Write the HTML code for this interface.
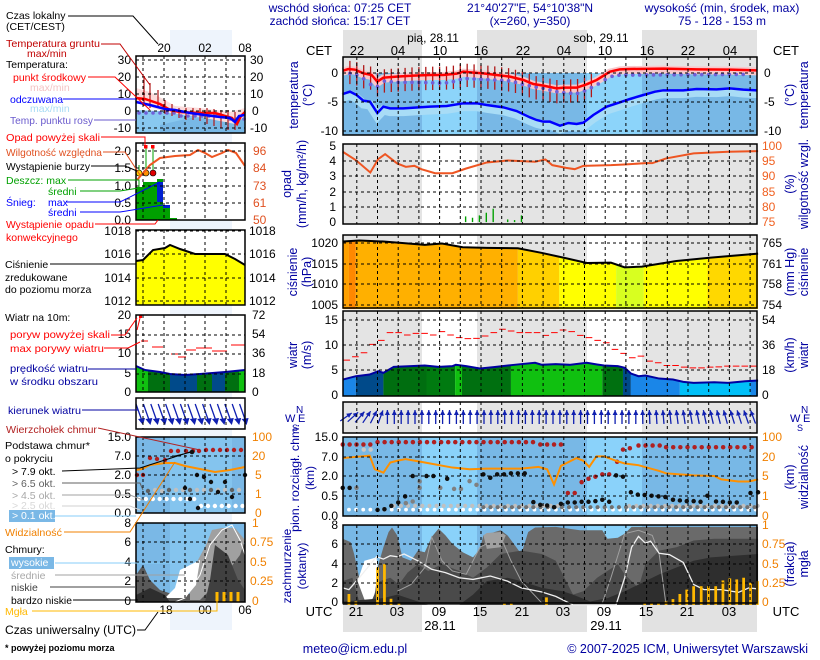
<!DOCTYPE html>
<html><head><meta charset="utf-8">
<style>
html,body{margin:0;padding:0;background:#fff;}
svg{display:block;font-family:"Liberation Sans",Arial,sans-serif;}
.n{fill:#0000a0}
.lg{font-size:10.5px}
.ax{font-size:12px}
</style></head><body>
<svg id="s" xmlns="http://www.w3.org/2000/svg" width="820" height="660" viewBox="0 0 820 660">
<rect width="820" height="660" fill="#fff"/>
<g id="bg"></g>
<g id="ser"></g>
<g id="grid"></g>
<g id="box"></g>
<g id="txt">
<text class="n" x="340" y="12" font-size="12" text-anchor="middle">wschód słońca: 07:25 CET</text>
<text class="n" x="340" y="25" font-size="12" text-anchor="middle">zachód słońca: 15:17 CET</text>
<text class="n" x="530" y="12" font-size="12" text-anchor="middle">21°40'27"E, 54°10'38"N</text>
<text class="n" x="530" y="25" font-size="12" text-anchor="middle">(x=260,  y=350)</text>
<text class="n" x="722" y="12" font-size="12" text-anchor="middle">wysokość (min, środek, max)</text>
<text class="n" x="722" y="25" font-size="12" text-anchor="middle">75 - 128 - 153 m</text>
<text x="433" y="42" font-size="12" text-anchor="middle">pią, 28.11</text>
<text x="601" y="42" font-size="12" text-anchor="middle">sob, 29.11</text>
<g font-size="13" text-anchor="middle">
<text x="319" y="55">CET</text><text x="786" y="55">CET</text>
<text x="357" y="55">22</text><text x="398" y="55">04</text><text x="440" y="55">10</text><text x="481" y="55">16</text><text x="523" y="55">22</text><text x="564" y="55">04</text><text x="605" y="55">10</text><text x="647" y="55">16</text><text x="688" y="55">22</text><text x="730" y="55">04</text>
<text x="319" y="616">UTC</text><text x="786" y="616">UTC</text>
<text x="356" y="616">21</text><text x="397" y="616">03</text><text x="439" y="616">09</text><text x="480" y="616">15</text><text x="522" y="616">21</text><text x="563" y="616">03</text><text x="604" y="616">09</text><text x="646" y="616">15</text><text x="687" y="616">21</text><text x="729" y="616">03</text>
<text x="440" y="630">28.11</text><text x="606" y="630">29.11</text>
</g>
<g class="ax" text-anchor="end">
<text x="338" y="77">0</text><text x="338" y="106">-5</text><text x="338" y="135">-10</text>
<text x="336" y="150">5</text><text x="336" y="165">4</text><text x="336" y="180">3</text><text x="336" y="196">2</text><text x="336" y="211">1</text><text x="336" y="226">0</text>
<text x="338" y="247">1020</text><text x="338" y="268">1015</text><text x="338" y="288">1010</text><text x="338" y="309">1005</text>
<text x="338" y="324">15</text><text x="338" y="349">10</text><text x="338" y="374">5</text><text x="338" y="399">0</text>
<text x="338" y="441">15.0</text><text x="338" y="461">7.0</text><text x="338" y="480">2.0</text><text x="338" y="500">0.5</text><text x="338" y="520">0.0</text>
<text x="338" y="529">8</text><text x="338" y="548">6</text><text x="338" y="568">4</text><text x="338" y="587">2</text><text x="338" y="606">0</text>
</g>
<g class="ax">
<text x="764" y="77">0</text><text x="764" y="106">-5</text><text x="764" y="135">-10</text>
<g fill="#f06020"><text x="762" y="150">100</text><text x="762" y="165">95</text><text x="762" y="180">90</text><text x="762" y="196">85</text><text x="762" y="211">80</text><text x="762" y="226">75</text></g>
<text x="762" y="247">765</text><text x="762" y="268">761</text><text x="762" y="288">758</text><text x="762" y="309">754</text>
<text x="762" y="324">54</text><text x="762" y="349">36</text><text x="762" y="374">18</text><text x="762" y="399">0</text>
<g fill="#f08000"><text x="762" y="441">100</text><text x="762" y="461">20</text><text x="762" y="480">5</text><text x="762" y="500">1</text><text x="762" y="520">0</text>
<text x="762" y="529">1</text><text x="762" y="548">0.75</text><text x="762" y="568">0.5</text><text x="762" y="587">0.25</text><text x="762" y="606">0</text></g>
</g>
<g class="n" font-size="12.5" text-anchor="middle">
<text transform="translate(298,95) rotate(-90)">temperatura</text>
<text transform="translate(312,95) rotate(-90)">(°C)</text>
<text transform="translate(794,95) rotate(-90)">(°C)</text>
<text transform="translate(808,95) rotate(-90)">temperatura</text>
<text transform="translate(291,184) rotate(-90)">opad</text>
<text transform="translate(306,184) rotate(-90)">(mm/h, kg/m²/h)</text>
<text transform="translate(794,184) rotate(-90)">(%)</text>
<text transform="translate(808,184) rotate(-90)">wilgotność wzgl.</text>
<text transform="translate(297,272) rotate(-90)">ciśnienie</text>
<text transform="translate(311,272) rotate(-90)">(hPa)</text>
<text transform="translate(794,272) rotate(-90)">(mm Hg)</text>
<text transform="translate(808,272) rotate(-90)">ciśnienie</text>
<text transform="translate(297,355) rotate(-90)">wiatr</text>
<text transform="translate(311,355) rotate(-90)">(m/s)</text>
<text transform="translate(794,355) rotate(-90)">(km/h)</text>
<text transform="translate(808,355) rotate(-90)">wiatr</text>
<text transform="translate(299,478) rotate(-90)" font-size="12" textLength="108" lengthAdjust="spacingAndGlyphs">pion. rozciągł. chm.</text>
<text transform="translate(314,478) rotate(-90)" font-size="12">(km)</text>
<text transform="translate(794,477) rotate(-90)">(km)</text>
<text transform="translate(808,477) rotate(-90)">widzialność</text>
<text transform="translate(291,566) rotate(-90)" font-size="12">zachmurzenie</text>
<text transform="translate(306,566) rotate(-90)" font-size="12">(oktanty)</text>
<text transform="translate(794,564) rotate(-90)">(frakcja)</text>
<text transform="translate(808,564) rotate(-90)">mgła</text>
</g>
<g class="n" font-size="11">
<text x="285" y="422">W</text><text x="296" y="413" font-size="10">N</text><text x="298" y="422">E</text><text x="292" y="431" font-size="9">S</text>
<text x="790" y="422">W</text><text x="801" y="413" font-size="10">N</text><text x="803" y="422">E</text><text x="797" y="431" font-size="9">S</text>
</g>
<text class="n" x="355" y="653" font-size="12.5" text-anchor="middle">meteo@icm.edu.pl</text>
<text class="n" x="808" y="653" font-size="12.5" text-anchor="end">© 2007-2025 ICM, Uniwersytet Warszawski</text>
<text x="5" y="651" font-size="9" font-weight="bold">* powyżej poziomu morza</text>

<g font-size="12" text-anchor="middle">
<text x="164" y="52">20</text><text x="205" y="52">02</text><text x="245" y="52">08</text>
<text x="166" y="614">18</text><text x="205" y="614">00</text><text x="245" y="614">06</text>
</g>
<g font-size="12" text-anchor="end">
<text x="131" y="64">30</text><text x="131" y="81">20</text><text x="131" y="98">10</text><text x="131" y="115">0</text><text x="131" y="132">-10</text>
<text x="131" y="155">2.0</text><text x="131" y="172">1.5</text><text x="131" y="190">1.0</text><text x="131" y="207">0.5</text><text x="131" y="224">0.0</text>
<text x="131" y="235">1018</text><text x="131" y="258">1016</text><text x="131" y="282">1014</text><text x="131" y="305">1012</text>
<text x="131" y="319">20</text><text x="131" y="338">15</text><text x="131" y="357">10</text><text x="131" y="377">5</text><text x="131" y="396">0</text>
<text x="131" y="441">15.0</text><text x="131" y="460">7.0</text><text x="131" y="479">2.0</text><text x="131" y="498">0.5</text><text x="131" y="517">0.0</text>
<text x="131" y="527">8</text><text x="131" y="546">6</text><text x="131" y="566">4</text><text x="131" y="585">2</text><text x="131" y="605">0</text>
</g>
<g font-size="12">
<text x="250" y="64">30</text><text x="250" y="81">20</text><text x="250" y="98">10</text><text x="252" y="115">0</text><text x="250" y="132">-10</text>
<g fill="#e05020"><text x="253" y="155">96</text><text x="253" y="172">84</text><text x="253" y="190">73</text><text x="253" y="207">61</text><text x="253" y="224">50</text></g>
<text x="249" y="235">1018</text><text x="249" y="258">1016</text><text x="249" y="282">1014</text><text x="249" y="305">1012</text>
<text x="252" y="319">72</text><text x="252" y="338">54</text><text x="252" y="357">36</text><text x="252" y="377">18</text><text x="252" y="396">0</text>
<g fill="#f08000"><text x="252" y="441">100</text><text x="252" y="460">20</text><text x="255" y="479">5</text><text x="255" y="498">1</text><text x="255" y="517">0</text>
<text x="252" y="527">1</text><text x="250" y="546">0.75</text><text x="250" y="566">0.5</text><text x="250" y="585">0.25</text><text x="252" y="605">0</text></g>
</g>

<g class="lg">
<text x="6" y="19">Czas lokalny</text>
<text x="6" y="30">(CET/CEST)</text>
<text x="6" y="47" fill="#c00000" textLength="94" lengthAdjust="spacingAndGlyphs">Temperatura gruntu</text>
<text x="27" y="57" fill="#c00000">max/min</text>
<text x="6" y="68">Temperatura:</text>
<text x="13" y="81" fill="#ff0000">punkt środkowy</text>
<text x="30" y="91" fill="#f4c4c4">max/min</text>
<text x="10" y="103" fill="#0000ff">odczuwana</text>
<text x="30" y="112" fill="#a8dcf4">max/min</text>
<text x="10" y="124" fill="#6a5acd" textLength="83" lengthAdjust="spacingAndGlyphs">Temp. punktu rosy</text>
<text x="6" y="141" fill="#ff0000" textLength="94" lengthAdjust="spacingAndGlyphs">Opad powyżej skali</text>
<text x="6" y="156" fill="#e05020" textLength="96" lengthAdjust="spacingAndGlyphs">Wilgotność względna</text>
<text x="6" y="170" textLength="84" lengthAdjust="spacingAndGlyphs">Wystąpienie burzy</text>
<text x="6" y="184" fill="#00a000">Deszcz: max</text>
<text x="48" y="195" fill="#00a000">średni</text>
<text x="6" y="206" fill="#0000ff">Śnieg:</text>
<text x="48" y="206" fill="#0000ff">max</text>
<text x="48" y="216" fill="#0000ff">średni</text>
<text x="6" y="228" fill="#ff0000" textLength="88" lengthAdjust="spacingAndGlyphs">Wystąpienie opadu</text>
<text x="6" y="241" fill="#ff0000">konwekcyjnego</text>
<text x="5" y="268">Ciśnienie</text>
<text x="5" y="281">zredukowane</text>
<text x="5" y="293">do poziomu morza</text>
<text x="5" y="321">Wiatr na 10m:</text>
<text x="10" y="338" fill="#ff0000" textLength="100" lengthAdjust="spacingAndGlyphs">poryw powyżej skali</text>
<text x="10" y="352" fill="#ff0000" textLength="94" lengthAdjust="spacingAndGlyphs">max porywy wiatru</text>
<text x="10" y="372" fill="#0000a0" textLength="78" lengthAdjust="spacingAndGlyphs">prędkość wiatru</text>
<text x="10" y="385" fill="#0000a0" textLength="88" lengthAdjust="spacingAndGlyphs">w środku obszaru</text>
<text x="8" y="414" fill="#0000a0" textLength="73" lengthAdjust="spacingAndGlyphs">kierunek wiatru</text>
<text x="6" y="433" fill="#b22222" textLength="91" lengthAdjust="spacingAndGlyphs">Wierzchołek chmur</text>
<text x="5" y="449" textLength="85" lengthAdjust="spacingAndGlyphs">Podstawa chmur*</text>
<text x="5" y="462">o pokryciu</text>
<text x="12" y="475">&gt; 7.9 okt.</text>
<text x="12" y="487" fill="#606060">&gt; 6.5 okt.</text>
<text x="12" y="499" fill="#a8a8a8">&gt; 4.5 okt.</text>
<text x="12" y="509" fill="#d8d8d8">&gt; 2.5 okt.</text>
<rect x="9" y="510" width="46" height="12" fill="#7ab8e6"/>
<text x="12" y="519" fill="#fff">&gt; 0.1 okt.</text>
<text x="5" y="536" fill="#f08000" textLength="57" lengthAdjust="spacingAndGlyphs">Widzialność</text>
<text x="5" y="553">Chmury:</text>
<rect x="9" y="557" width="45" height="12" fill="#7ab8e6"/>
<text x="11" y="566" fill="#fff">wysokie</text>
<text x="11" y="579" fill="#a8a8a8">średnie</text>
<text x="11" y="591" fill="#404040">niskie</text>
<text x="11" y="604" textLength="61" lengthAdjust="spacingAndGlyphs">bardzo niskie</text>
<text x="5" y="615" fill="#ffb800">Mgła</text>
<text x="5" y="634" font-size="11.5" textLength="131" lengthAdjust="spacingAndGlyphs">Czas uniwersalny (UTC)</text>
</g>
</g>
<g id="lines" fill="none" stroke-width="1"></g>
</svg>
<script>
var NS='http://www.w3.org/2000/svg';
function E(par,tag,a){var e=document.createElementNS(NS,tag);for(var k in a)e.setAttribute(k,a[k]);(typeof par=='string'?document.getElementById(par):par).appendChild(e);return e;}
function P(p){return p.map(function(q){return q[0]+','+q[1]}).join(' ');}
function G(par,tr){return E(par,'g',{transform:tr});}
var L=343,R=757;
function X(h){return L+6.9*h;}
var days=[[422,477],[587,642]];
function bands(par,y0,y1,night,day){
  E(par,'rect',{x:L,y:y0,width:R-L,height:y1-y0,fill:night});
  days.forEach(function(d){E(par,'rect',{x:d[0],y:y0,width:d[1]-d[0],height:y1-y0,fill:day});});
}
bands('bg',30,57,'#e2e2e2','#fff');
bands('bg',603,632,'#e2e2e2','#fff');
bands('bg',57,73,'#e4e4e4','#fff');
bands('bg',73,135,'#78b8e6','#8cd4fa');
bands('bg',144,224,'#e4e4e4','#fff');
bands('bg',235,308,'#e4e4e4','#fff');
bands('bg',311,396,'#e4e4e4','#fff');
bands('bg',402,433,'#e4e4e4','#fff');
bands('bg',437,516,'#78b8e6','#8ad2fa');
bands('bg',525,603,'#78b8e6','#8ad2fa');
E('bg','rect',{x:170,y:30,width:62,height:600,fill:'#eef4fc'});
E('bg','rect',{x:136,y:56,width:109,height:77,fill:'#fff'});
E('bg','rect',{x:136,y:143,width:109,height:77,fill:'#fff'});
E('bg','rect',{x:136,y:230,width:109,height:75,fill:'#fff'});
E('bg','rect',{x:136,y:315,width:109,height:77,fill:'#fff'});
E('bg','rect',{x:136,y:398,width:109,height:31,fill:'#fff'});
E('bg','rect',{x:136,y:437,width:109,height:76,fill:'#7ab8e6'});
E('bg','rect',{x:170,y:437,width:62,height:76,fill:'#84c4ee'});
E('bg','rect',{x:136,y:523,width:109,height:79,fill:'#7ab8e6'});
E('bg','rect',{x:170,y:523,width:62,height:79,fill:'#84c4ee'});

var S='ser';
var gT=G(S,'translate(330,25) scale(0.3333)');
var red=[[39,137],[55,132],[75,134],[100,145],[125,150],[142,170],[160,158],[200,155],[250,152],[300,150],[340,150],[380,146],[400,140],[430,143],[460,145],[500,150],[540,155],[580,165],[610,177],[640,182],[680,190],[700,188],[740,188],[770,178],[800,165],[840,140],[870,133],[900,132],[1000,131],[1100,133],[1200,134],[1281,136]];
var blue=[[39,207],[60,200],[80,210],[100,227],[120,230],[142,264],[160,245],[180,250],[220,250],[300,245],[350,243],[400,235],[440,235],[470,240],[520,247],[560,258],[600,277],[620,285],[640,290],[660,290],[690,302],[715,294],[740,297],[760,293],[790,270],[830,245],[870,232],[900,222],[940,210],[975,200],[1000,196],[1060,196],[1100,192],[1160,193],[1200,190],[1240,194],[1281,196]];
var dew=[[55,145],[75,147],[100,160],[120,178],[142,185],[160,168],[200,172],[250,172],[300,173],[340,175],[380,168],[400,160],[430,162],[460,163],[500,165],[540,168],[580,178],[610,185],[640,190],[680,200],[700,203],[740,206],[770,195],[800,180],[840,155],[870,150],[900,150],[1281,148]];
function sh(p,dy){return p.map(function(q){return [q[0],q[1]+dy]});}
E(gT,'polyline',{points:P(sh(blue,10)),fill:'none',stroke:'#a8dcf6',"stroke-width":9,"vector-effect":"non-scaling-stroke"});
E(gT,'polyline',{points:P(sh(red,3)),fill:'none',stroke:'#f8c8cc',"stroke-width":8,"vector-effect":"non-scaling-stroke"});
function interp(p,x){for(var i=1;i<p.length;i++){if(x<=p[i][0]){var a=p[i-1],b=p[i];return a[1]+(b[1]-a[1])*(x-a[0])/(b[0]-a[0]);}}return p[p.length-1][1];}
var d='';
for(var h=1;h<=36;h++){var x=39+h*20.7;var y=interp(red,x);d+='M'+x+' '+(y-25)+'V'+(y+45);}
E(gT,'path',{d:d,stroke:'#b01818',"stroke-width":1.3,"vector-effect":"non-scaling-stroke"});
for(var h=1;h<59;h++){var x=39+h*20.7;E(gT,'circle',{cx:x,cy:interp(dew,x),r:5.5,fill:'#7060d8'});}
E(gT,'polyline',{points:P(red),fill:'none',stroke:'#ff0000',"stroke-width":2.5,"vector-effect":"non-scaling-stroke"});
E(gT,'polyline',{points:P(blue),fill:'none',stroke:'#0000ff',"stroke-width":2.5,"vector-effect":"non-scaling-stroke"});

var g5=G(S,'translate(280,135) scale(0.3447,0.335)');
[[538,243],[558,247],[578,240],[598,232],[618,220],[660,252],[680,254],[700,240]].forEach(function(b){E(g5,'rect',{x:b[0]-1.5,y:b[1],width:4,height:260-b[1],fill:'#00a000'});});
var hum=[[182,50],[220,75],[262,112],[285,72],[305,57],[340,85],[365,95],[390,92],[410,102],[450,114],[500,114],[540,100],[600,82],[660,76],[740,80],[770,73],[790,90],[830,98],[855,102],[880,92],[960,90],[1000,88],[1060,84],[1080,84],[1120,70],[1200,55],[1300,50],[1387,48]];
E(g5,'polyline',{points:P(hum),fill:'none',stroke:'#ee5522',"stroke-width":2,"vector-effect":"non-scaling-stroke"});
var pr=[[182,318],[230,315],[300,318],[350,322],[420,328],[470,324],[530,335],[600,337],[690,338],[760,352],[830,368],[890,382],[960,381],[1000,395],[1050,393],[1150,376],[1250,366],[1387,354]];
var cp=E(S,'clipPath',{id:'cpr'});
E(cp,'polygon',{points:P(pr.concat([[1387,520],[182,520]]))});
var gp=E(g5,'g',{"clip-path":'url(#cpr)'});
[[182,200,'#ffa000'],[200,220,'#ff8800'],[220,690,'#ffb000'],[690,810,'#ffd000'],[810,975,'#ffff00'],[975,1055,'#d8ff20'],[1055,1240,'#ffff00'],[1240,1387,'#ffd800']].forEach(function(s){E(gp,'rect',{x:s[0],y:280,width:s[1]-s[0],height:245,fill:s[2]});});
E(g5,'polyline',{points:P(pr),fill:'none',stroke:'#000',"stroke-width":2,"vector-effect":"non-scaling-stroke"});
var wd=[[182,730],[220,720],[260,715],[285,705],[300,710],[330,692],[380,690],[420,688],[460,692],[500,690],[510,686],[540,690],[580,697],[620,693],[680,686],[740,680],[760,686],[800,684],[840,686],[890,680],[920,685],[940,688],[980,690],[1000,695],[1018,712],[1040,720],[1060,718],[1100,727],[1140,730],[1170,737],[1200,740],[1260,738],[1300,740],[1350,735],[1387,733]];
var cw=E(S,'clipPath',{id:'cwd'});
E(cw,'polygon',{points:P(wd.concat([[1387,780],[182,780]]))});
var gw=E(g5,'g',{"clip-path":'url(#cwd)'});
[[182,220,'#1a86e8'],[220,300,'#004a8a'],[300,425,'#006e10'],[425,508,'#007a10'],[508,528,'#10c010'],[528,670,'#007010'],[670,935,'#10c010'],[935,995,'#007010'],[995,1018,'#004a8a'],[1018,1160,'#1a86e8'],[1160,1365,'#00c0f8'],[1365,1387,'#1a86e8']].forEach(function(s){E(gw,'rect',{x:s[0],y:670,width:s[1]-s[0],height:115,fill:s[2]});});
E(g5,'polyline',{points:P(wd),fill:'none',stroke:'#0000a0',"stroke-width":2,"vector-effect":"non-scaling-stroke"});
var gust=[672,662,650,625,613,590,590,597,592,592,597,587,597,605,608,607,600,590,580,585,590,590,590,598,590,582,587,598,605,613,620,640,652,665,660,675,680,688,688,693,695,695,693,692,690,690,690,690];
var d='';var step=(1387-182)/gust.length;
for(var i=0;i<gust.length;i++){var x=182+i*step;d+='M'+(x+2)+' '+gust[i]+'H'+(x+step-4);}
E(g5,'path',{d:d,stroke:'#ff0000',"stroke-width":1,"vector-effect":"non-scaling-stroke"});

var d='',hd='';
for(var h=0;h<60;h++){var cx=X(h)+3;var cy=417;var ang;
 if(h<6)ang=55-h*7; else if(h<42)ang=0; else ang=-(h-42)*1.2;
 var a=ang*Math.PI/180;var dx=Math.sin(a)*7,dy=-Math.cos(a)*7;
 d+='M'+(cx-dx)+' '+(cy-dy)+'L'+(cx+dx)+' '+(cy+dy);
 var tx=cx+dx,ty=cy+dy;var ux=dx/7,uy=dy/7;
 hd+='M'+tx+' '+ty+'L'+(tx-ux*5-uy*2.5)+' '+(ty-uy*5+ux*2.5)+'L'+(tx-ux*5+uy*2.5)+' '+(ty-uy*5-ux*2.5)+'Z';}
E(S,'path',{d:d,stroke:'#1020b0',"stroke-width":1.3,fill:'none'});
E(S,'path',{d:hd,fill:'#1020b0'});

var g2=G(S,'translate(280,418.4) scale(0.3447,0.339)');
var cc=E(S,'clipPath',{id:'ccl'});E(cc,'rect',{x:182,y:318,width:1205,height:232});
var gc=E(g2,'g',{"clip-path":'url(#ccl)'});
E(gc,'polygon',{fill:'#6a6a6a',points:P([[182,355],[205,365],[215,400],[230,470],[250,540],[265,548],[280,450],[300,380],[315,335],[325,322],[340,345],[355,410],[380,420],[400,390],[420,395],[440,350],[460,325],[480,345],[500,370],[530,395],[560,410],[580,385],[590,345],[640,330],[660,345],[700,400],[720,335],[740,322],[800,320],[870,330],[935,330],[950,355],[980,352],[1000,340],[1020,320],[1387,320],[1387,550],[182,550]])});
E(gc,'polygon',{fill:'#a0a0a0',points:P([[590,345],[600,338],[640,335],[655,345],[640,380],[600,385]])});
E(gc,'polygon',{fill:'#ffffff',points:P([[225,480],[245,420],[280,410],[285,450],[270,548],[250,548]])});
E(gc,'polygon',{fill:'#4a4a4a',points:P([[182,480],[210,470],[230,540],[262,548],[290,480],[320,470],[345,490],[370,455],[400,430],[430,450],[470,430],[520,450],[560,470],[600,440],[640,400],[700,390],[760,400],[800,420],[850,520],[880,510],[920,470],[980,430],[1000,460],[1040,500],[1060,430],[1100,390],[1150,380],[1200,360],[1260,355],[1387,355],[1387,550],[182,550]])});
E(gc,'polygon',{fill:'#2e2e2e',points:P([[182,540],[300,530],[340,520],[400,540],[430,550],[520,550],[560,520],[600,480],[660,470],[700,480],[760,500],[820,510],[850,520],[900,540],[950,530],[1000,510],[1060,480],[1100,460],[1150,440],[1200,420],[1250,410],[1387,400],[1387,550],[182,550]])});
E(g2,'polyline',{fill:'none',stroke:'#a0a0a0',"stroke-width":1,"vector-effect":"non-scaling-stroke",points:P([[340,510],[380,490],[420,440],[440,350],[470,420],[500,450],[540,460],[580,380],[640,350],[670,420],[700,480],[760,545],[935,545],[960,470],[1000,340],[1040,330],[1080,345],[1100,400],[1120,550]])});
E(g2,'polyline',{fill:'none',stroke:'#f0f0f0',"stroke-width":1.3,"vector-effect":"non-scaling-stroke",points:P([[182,500],[200,505],[230,470],[280,408],[300,415],[320,405],[340,408],[360,400],[400,420],[440,445],[480,455],[520,470],[560,475],[610,465],[660,480],[700,500],[760,512],[800,525],[840,545],[850,550],[975,550],[1000,470],[1020,380],[1040,348],[1060,368],[1075,362],[1100,398],[1130,402],[1170,425],[1200,490],[1230,505],[1280,505],[1330,513],[1360,500],[1387,503]])});
[[200,518],[220,540],[283,440],[303,430],[322,532],[345,545],[651,545],[671,545],[773,528],[1058,545],[1078,545],[1098,545],[1120,540],[1140,533],[1160,518],[1180,505],[1200,495],[1222,495],[1243,495],[1264,495],[1285,478],[1305,472],[1325,475],[1345,470],[1365,485],[1385,480]].forEach(function(b){E(g2,'rect',{x:b[0]-4,y:b[1],width:8,height:550-b[1],fill:'#ffb800'});});
function dot(x,y,c,r){E(g2,'ellipse',{cx:x,cy:y,rx:r||6.5,ry:(r||6.5)*1.02,fill:c});}
for(var x=200;x<=1387;x+=20.7){dot(x,269,'#ffffff',5.5);}
for(var x=330;x<=1387;x+=20.7){if(x<820||x>1010)dot(x,258,'#c0c0c0',6);}
for(var x=590;x<=1387;x+=20.7){dot(x,262,'#707070',6);}
var blk=[[182,205],[202,205],[283,270],[303,268],[323,258],[343,248],[363,230],[385,170],[425,170],[445,170],[485,178],[590,165],[610,175],[630,165],[650,165],[670,162],[690,162],[710,162],[735,247],[755,255],[775,257],[795,262],[815,252],[835,248],[855,248],[875,246],[895,246],[915,244],[935,240],[955,246],[975,168],[995,172],[1018,218],[1038,225],[1058,226],[1078,228],[1098,230],[1118,232],[1140,240],[1160,242],[1180,244],[1200,244],[1220,246],[1240,228],[1265,245],[1285,246],[1305,248],[1325,248],[1365,220],[1387,218]];
blk.forEach(function(p){dot(p[0],p[1],'#101010');});
[[222,205],[405,186],[465,205],[505,208],[525,208],[550,185],[570,196],[405,205],[385,245],[365,250]].forEach(function(p){dot(p[0],p[1],'#808080');});
[[243,92],[263,92]].forEach(function(p){dot(p[0],p[1],'#c8c8c8');});
var rd=[];for(var x=182;x<=262;x+=20)rd.push([x,77]);for(var x=283;x<=735;x+=20.5)rd.push([x,70]);[[755,77],[775,77],[795,77],[815,77],[835,220],[855,220],[875,188],[895,178],[915,172],[935,165],[955,165],[978,128],[995,92],[1015,88]].forEach(function(p){rd.push(p);});
for(var x=1040;x<=1110;x+=20.5)rd.push([x,80]);for(var x=1120;x<=1387;x+=20.7)rd.push([x,85]);
rd.forEach(function(p){dot(p[0],p[1],'#b02020');});
E(g2,'polyline',{fill:'none',stroke:'#ff9000',"stroke-width":2,"vector-effect":"non-scaling-stroke",points:P([[182,117],[260,110],[275,150],[300,160],[320,130],[340,125],[365,120],[420,130],[500,145],[550,150],[600,148],[700,148],[750,143],[775,150],[795,195],[815,140],[860,117],[880,125],[897,143],[918,112],[940,112],[975,125],[1000,133],[1040,138],[1100,155],[1120,162],[1200,168],[1260,170],[1280,180],[1330,186],[1360,186],[1387,180]])});

var M='ser';
E(M,'polygon',{fill:'#88c8f0',points:P([[136,110],[160,111],[175,112],[245,112],[245,133],[136,133]])});
E(M,'polygon',{fill:'#78b8e6',points:P([[160,125],[190,118],[245,120],[245,133],[160,133]])});
E(M,'polygon',{fill:'#fbdcdc',points:P([[136,88],[150,92],[165,100],[175,106],[200,108],[230,112],[245,108],[245,116],[235,124],[200,117],[170,113],[136,103]])});
var d='';[[144,76,106],[150,83,108],[158,90,108],[165,100,114],[172,104,116],[179,108,118],[186,108,120],[193,108,120],[200,108,121],[207,108,124],[214,109,126],[221,110,128],[228,110,130],[235,112,130]].forEach(function(v){d+='M'+v[0]+' '+v[1]+'V'+v[2];});
E(M,'path',{d:d,stroke:'#b01818',"stroke-width":1.2});
for(var x=139;x<245;x+=7)E(M,'circle',{cx:x,cy:(x<175?113:116+(x>225?3:0)),r:1.8,fill:'#7060d8'});
E(M,'polyline',{fill:'none',stroke:'#ff0000',"stroke-width":2.5,points:P([[136,98],[145,99],[160,104],[170,110],[180,112],[200,113],[215,113],[225,116],[232,118],[237,124],[241,116],[245,112]])});
E(M,'polyline',{fill:'none',stroke:'#0000ff',"stroke-width":2.5,points:P([[136,102],[150,105],[165,109],[175,110],[190,113],[205,115],[220,117],[230,118],[235,122],[239,116],[245,115]])});
[[136,143,187],[143,157,182],[157,163,179],[163,170,208],[170,177,218]].forEach(function(b){E(M,'rect',{x:b[0],y:b[2],width:b[1]-b[0],height:220-b[2],fill:'#00a000'});});
E(M,'rect',{x:157,y:182,width:6,height:20,fill:'#0020d0'});
E(M,'rect',{x:163,y:205,width:7,height:3,fill:'#0020d0'});
E(M,'path',{d:'M139 173V165M146 173V147M153 173V147',stroke:'#00a000',"stroke-width":1});
E(M,'rect',{x:144,y:145,width:3.5,height:3.5,fill:'#ff0000'});E(M,'rect',{x:151,y:145,width:3.5,height:3.5,fill:'#ff0000'});
[[139,'#ffd800'],[146,'#ff9000'],[153,'#e00000']].forEach(function(c){E(M,'circle',{cx:c[0],cy:173,r:3,fill:c[1],stroke:'#000',"stroke-width":0.6});});
E(M,'polyline',{fill:'none',stroke:'#ee5522',"stroke-width":2,points:P([[137,180],[143,173],[150,165],[160,158],[175,156],[190,155],[198,150],[205,153],[212,157],[222,153],[228,150],[236,153],[245,166]])});
E(M,'polygon',{fill:'#ffff00',points:P([[136,261],[143,260],[153,250],[165,248],[170,245],[180,249],[195,254],[225,254],[235,259],[245,265],[245,305],[136,305]])});
E(M,'polyline',{fill:'none',stroke:'#000',"stroke-width":2,points:P([[136,261],[143,260],[153,250],[165,248],[170,245],[180,249],[195,254],[225,254],[235,259],[245,265]])});
var mw=[[136,366],[145,370],[160,372],[170,374],[185,375],[200,374],[225,372],[245,370]];
var cm=E(S,'clipPath',{id:'cmw'});E(cm,'polygon',{points:P(mw.concat([[245,392],[136,392]]))});
var gm=E(M,'g',{"clip-path":'url(#cmw)'});
[[136,148,'#10c010'],[148,170,'#007010'],[170,197,'#004a8a'],[197,212,'#007010'],[212,225,'#004a8a'],[225,239,'#007010'],[239,245,'#10c010']].forEach(function(s){E(gm,'rect',{x:s[0],y:360,width:s[1]-s[0],height:35,fill:s[2]});});
E(M,'polyline',{fill:'none',stroke:'#0000a0',"stroke-width":2,points:P(mw)});
E(M,'path',{d:'M137 330L140 318M141 341H148M152 347H163M171 354H178M178 357H186M186 350H196M196 348H212M212 351H227M231 345H245',stroke:'#ff0000',"stroke-width":1,fill:'none'});
E(M,'rect',{x:139,y:315,width:3,height:3,fill:'#ff0000'});
var d='',hd='';for(var x=139;x<248;x+=7.4){d+='M'+(x-3)+' '+404+'L'+(x+3)+' '+421;hd+='M'+(x+4)+' '+425+'L'+(x-1)+' '+419+'L'+(x+6)+' '+418+'Z';}
E(M,'path',{d:d,stroke:'#1020b0',"stroke-width":1.3});E(M,'path',{d:hd,fill:'#1020b0'});
for(var x=139;x<245;x+=6.9){E(M,'circle',{cx:x,cy:((x>195&&x<228)?506:(x>215?506:499)),r:2.2,fill:'#fff'});}
[[148,491],[155,490],[162,491],[169,490],[176,490],[183,490],[190,490],[197,490],[204,490],[211,490],[218,490],[225,490],[232,490],[239,490]].forEach(function(p,i){E(M,'circle',{cx:p[0],cy:p[1],r:2.2,fill:(i%3==0?'#606060':'#c0c0c0')});});
[[185,488],[197,475],[204,477],[211,482],[218,492],[225,482],[232,497],[245,475],[190,499],[198,508]].forEach(function(p){E(M,'circle',{cx:p[0],cy:p[1],r:2.2,fill:'#101010'});});
[[137,475],[143,475],[150,458],[157,459],[165,460],[171,451],[178,451],[186,451],[193,451],[199,451],[206,450],[213,450],[220,450],[227,450],[234,450],[241,450]].forEach(function(p){E(M,'circle',{cx:p[0],cy:p[1],r:2.2,fill:'#b02020'});});
E(M,'polyline',{fill:'none',stroke:'#000',"stroke-width":0.8,points:P([[170,457],[192,452]])});
E(M,'circle',{cx:192,cy:452,r:2.3,fill:'#101010'});
E(M,'polyline',{fill:'none',stroke:'#ff9000',"stroke-width":2,points:P([[136,470],[142,469],[150,465],[165,463],[175,463],[185,466],[200,469],[215,472],[230,470],[245,467]])});
E(M,'polygon',{fill:'#5a5a5a',points:P([[136,575],[143,565],[150,580],[160,590],[175,595],[195,593],[205,560],[215,540],[225,528],[230,530],[245,545],[245,602],[136,602]])});
E(M,'polygon',{fill:'#a0a0a0',points:P([[190,585],[198,560],[206,545],[212,530],[222,528],[235,528],[245,540],[240,555],[225,575],[210,590],[200,600],[190,600]])});
E(M,'polygon',{fill:'#ffffff',points:P([[165,598],[175,588],[180,570],[190,565],[200,560],[196,585],[185,598]])});
E(M,'polygon',{fill:'#404040',points:P([[215,545],[228,555],[238,580],[245,590],[245,602],[205,602],[210,580]])});
E(M,'polygon',{fill:'#2e2e2e',points:P([[136,595],[150,588],[165,595],[170,602],[136,602]])});
E(M,'polyline',{fill:'none',stroke:'#fff',"stroke-width":1,points:P([[175,602],[185,598],[200,575],[210,545],[222,530],[232,525],[240,540],[245,555]])});
[[217,592],[224,592],[231,592],[238,592]].forEach(function(b){E(M,'rect',{x:b[0]-1.5,y:b[1],width:3,height:602-b[1],fill:'#ffb800'});});

var gg=document.getElementById('grid');
var panels=[[57,135],[144,224],[235,308],[311,396],[402,433],[437,516],[525,603]];
var dv='';
for(var h=2;h<60;h+=3){var x=X(h).toFixed(1);panels.forEach(function(p){dv+='M'+x+' '+p[0]+'V'+p[1];});}
var hz=[73,102,131, 161,176,192,207, 243,264,284,305, 320,345,370, 457,476,496, 544,564,583];
hz.forEach(function(y){dv+='M'+L+' '+y+'H'+R;});
var mp=[[56,133],[143,220],[230,305],[315,392],[398,429],[437,513],[523,602]];
[143,164,185,205,226].forEach(function(x){mp.forEach(function(p){dv+='M'+x+' '+p[0]+'V'+p[1];});});
[60,77,94,111,128, 151,168,186,203, 231,254,278,301, 335,354,374, 456,475,494, 542,562,581].forEach(function(y){dv+='M136 '+y+'H245';});
E(gg,'path',{d:dv,stroke:'#000',"stroke-width":1,"stroke-dasharray":'3,3',fill:'none'});
panels.forEach(function(p){E('box','rect',{x:L,y:p[0],width:R-L,height:p[1]-p[0],fill:'none',stroke:'#000',"stroke-width":1.5});});
mp.forEach(function(p){E('box','rect',{x:136,y:p[0],width:109,height:p[1]-p[0],fill:'none',stroke:'#000',"stroke-width":1.5});});

var ln=document.getElementById('lines');
function C(pts,c){E(ln,'polyline',{points:P(pts),stroke:c||'#000',"stroke-width":1,fill:'none'});}
C([[68,16],[133,16],[158,44]]);
C([[101,44],[120,44],[150,85]],'#c00000');
C([[88,77],[115,77],[150,110]],'#ff0000');
C([[63,99],[136,99]],'#0000ff');
C([[94,120],[136,120]],'#6a5acd');
C([[101,137],[145,137],[145,145]],'#ff0000');
C([[103,152],[125,152],[140,175]],'#e05020');
C([[91,166],[125,166],[137,171]]);
C([[68,180],[139,180],[139,187]],'#00a000');
C([[80,191],[120,191],[145,187]],'#00a000');
C([[66,202],[120,202],[160,182]],'#0000ff');
C([[80,212],[120,212],[163,205]],'#0000ff');
C([[95,224],[155,224],[158,220]],'#ff0000');
C([[50,264],[136,264]]);
C([[111,335],[125,335],[137,318]],'#ff0000');
C([[104,348],[128,348],[140,342]],'#ff0000');
C([[88,369],[136,369]],'#0000a0');
C([[82,410],[138,410]],'#0000a0');
C([[98,428],[200,450]],'#b22222');
C([[62,471],[140,468],[190,452]]);
C([[62,483],[140,483],[143,490]],'#606060');
C([[62,495],[130,495],[143,500]],'#a0a0a0');
C([[62,506],[130,506],[140,510]],'#d0d0d0');
C([[55,516],[136,516]],'#87cefa');
C([[64,532],[130,532],[175,462]],'#f08000');
C([[55,563],[175,563]],'#87cefa');
C([[55,575],[185,575]],'#a0a0a0');
C([[50,587],[136,587]],'#404040');
C([[73,600],[138,600]]);
C([[32,611],[217,611],[217,600]],'#ffb800');
C([[137,630],[145,630],[158,612]]);
</script>
</body></html>
